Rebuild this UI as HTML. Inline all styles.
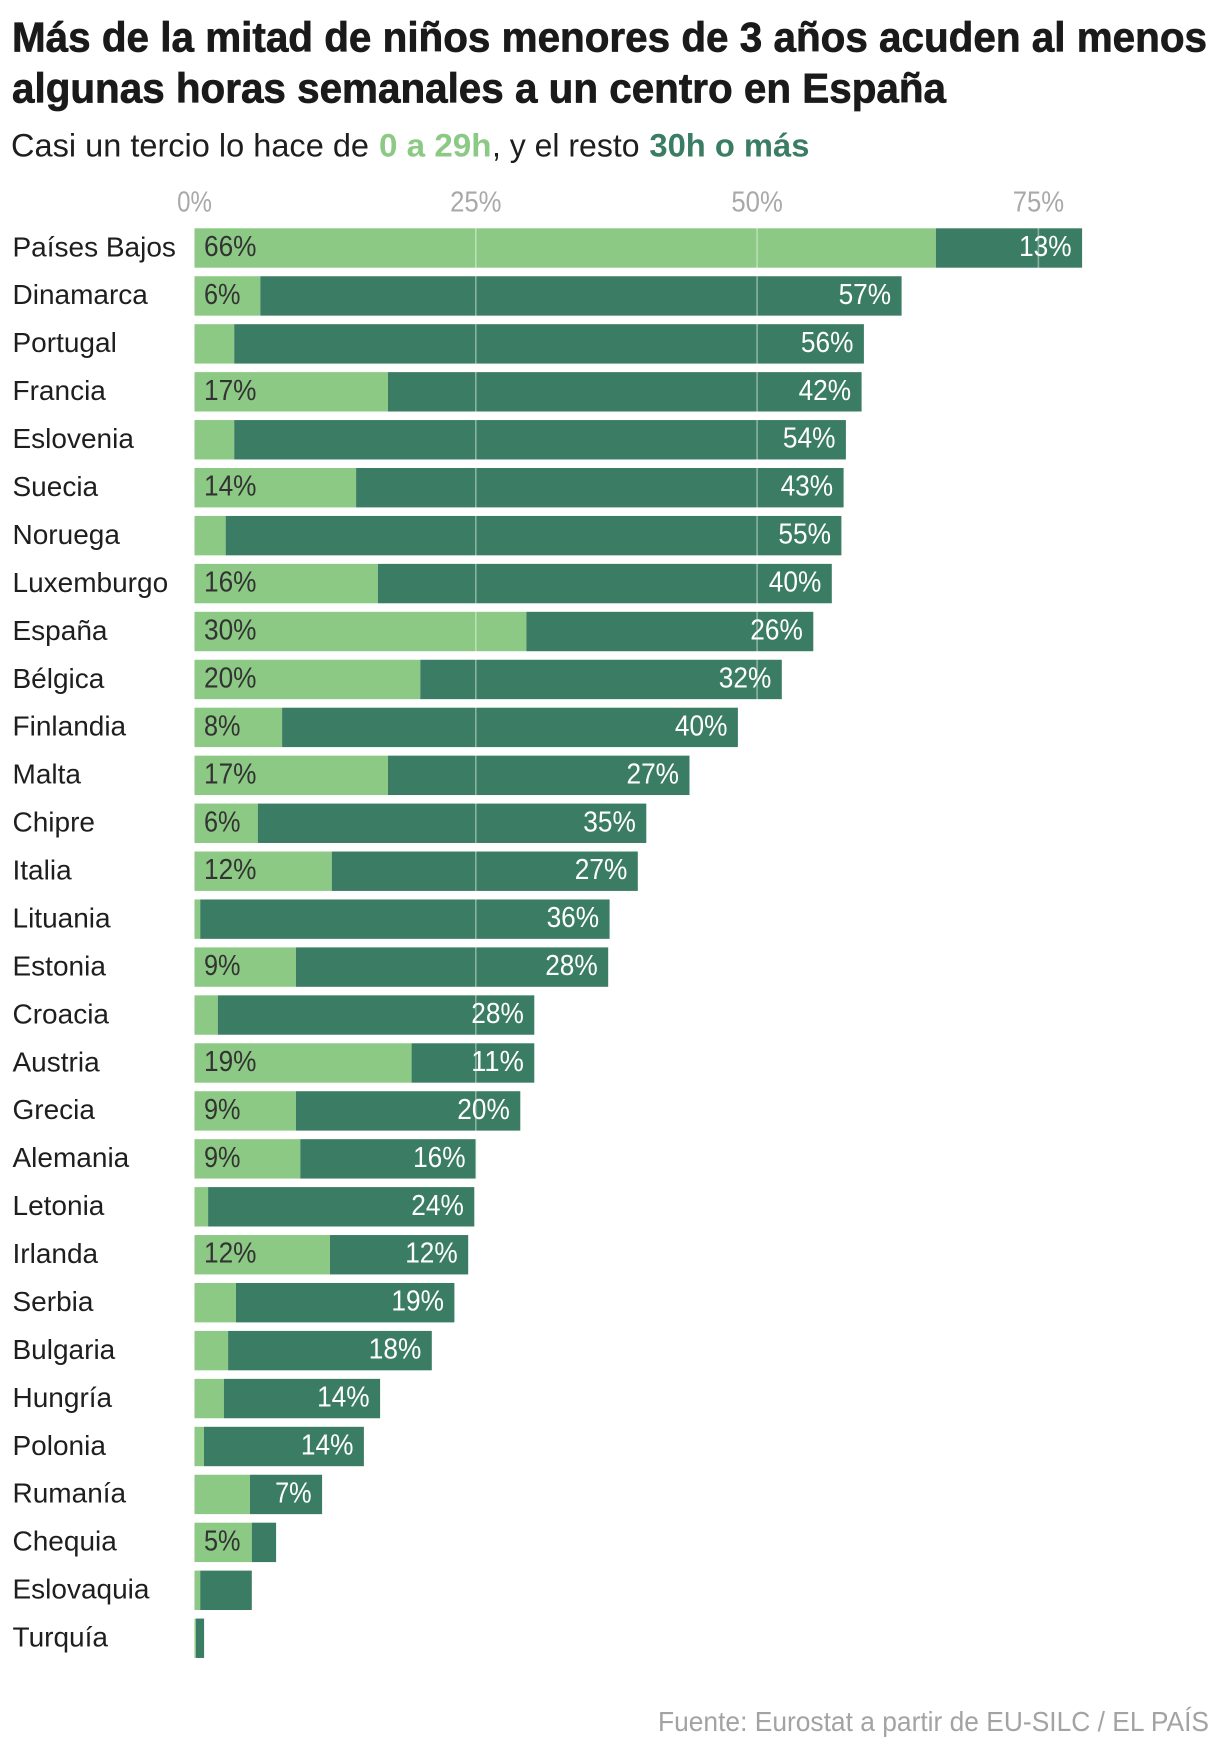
<!DOCTYPE html>
<html>
<head>
<meta charset="utf-8">
<style>
  html,body{margin:0;padding:0;background:#fff;}
  svg{display:block;}
  .t{font-family:"Liberation Sans",sans-serif;font-weight:bold;fill:#1a1a1a;font-size:42px;stroke:#1a1a1a;stroke-width:0.7px;}
  .s{font-family:"Liberation Sans",sans-serif;font-size:32px;fill:#1e1e1e;}
  .ax{font-family:"Liberation Sans",sans-serif;font-size:29px;fill:#a9a9a9;}
  .c{font-family:"Liberation Sans",sans-serif;font-size:28px;fill:#1e1e1e;}
  .vl{font-family:"Liberation Sans",sans-serif;font-size:29px;fill:#333;}
  .vd{font-family:"Liberation Sans",sans-serif;font-size:29px;fill:#fff;}
  .f{font-family:"Liberation Sans",sans-serif;font-size:28px;fill:#a3a3a3;}
  .L{fill:#8cc985;}
  .D{fill:#3b7d64;}
</style>
</head>
<body>
<svg width="1220" height="1744" viewBox="0 0 1220 1744" xmlns="http://www.w3.org/2000/svg">
  <!-- Title -->
  <text class="t" x="12" y="51.7" textLength="1195" lengthAdjust="spacingAndGlyphs">Más de la mitad de niños menores de 3 años acuden al menos</text>
  <text class="t" x="12" y="102.7" textLength="934" lengthAdjust="spacingAndGlyphs">algunas horas semanales a un centro en España</text>
  <!-- Subtitle -->
  <text class="s" x="11" y="156.7" textLength="358" lengthAdjust="spacingAndGlyphs">Casi un tercio lo hace de</text>
  <text class="s" x="379" y="156.7" textLength="112.5" lengthAdjust="spacingAndGlyphs" style="font-weight:bold;fill:#8cc985">0 a 29h</text>
  <text class="s" x="492" y="156.7" textLength="147.5" lengthAdjust="spacingAndGlyphs">, y el resto</text>
  <text class="s" x="649.4" y="156.7" textLength="160" lengthAdjust="spacingAndGlyphs" style="font-weight:bold;fill:#3b7d64">30h o más</text>

  <!-- Axis labels -->
  <text class="ax" x="194.5" y="211.7" text-anchor="middle" textLength="34.8" lengthAdjust="spacingAndGlyphs">0%</text>
  <text class="ax" x="475.8" y="211.7" text-anchor="middle" textLength="51.4" lengthAdjust="spacingAndGlyphs">25%</text>
  <text class="ax" x="757.1" y="211.7" text-anchor="middle" textLength="51.4" lengthAdjust="spacingAndGlyphs">50%</text>
  <text class="ax" x="1038.4" y="211.7" text-anchor="middle" textLength="51.4" lengthAdjust="spacingAndGlyphs">75%</text>

  <!-- Rows -->
  <g transform="translate(0,228.3)">
    <text class="c" x="12.5" y="28">Países Bajos</text>
    <rect class="L" x="194.5" y="0" width="741.4" height="39.4"/><rect class="D" x="935.9" y="0" width="146.2" height="39.4"/>
    <text class="vl" x="204" y="27.7" textLength="52.5" lengthAdjust="spacingAndGlyphs">66%</text>
    <text class="vd" x="1071.6" y="27.7" text-anchor="end" textLength="52.5" lengthAdjust="spacingAndGlyphs">13%</text>
  </g>
  <g transform="translate(0,276.24)">
    <text class="c" x="12.5" y="28">Dinamarca</text>
    <rect class="L" x="194.5" y="0" width="65.8" height="39.4"/><rect class="D" x="260.3" y="0" width="641.3" height="39.4"/>
    <text class="vl" x="204" y="27.7" textLength="36.5" lengthAdjust="spacingAndGlyphs">6%</text>
    <text class="vd" x="891.1" y="27.7" text-anchor="end" textLength="52.5" lengthAdjust="spacingAndGlyphs">57%</text>
  </g>
  <g transform="translate(0,324.18)">
    <text class="c" x="12.5" y="28">Portugal</text>
    <rect class="L" x="194.5" y="0" width="39.7" height="39.4"/><rect class="D" x="234.2" y="0" width="629.7" height="39.4"/>
    <text class="vd" x="853.4" y="27.7" text-anchor="end" textLength="52.5" lengthAdjust="spacingAndGlyphs">56%</text>
  </g>
  <g transform="translate(0,372.12)">
    <text class="c" x="12.5" y="28">Francia</text>
    <rect class="L" x="194.5" y="0" width="193.5" height="39.4"/><rect class="D" x="388" y="0" width="473.6" height="39.4"/>
    <text class="vl" x="204" y="27.7" textLength="52.5" lengthAdjust="spacingAndGlyphs">17%</text>
    <text class="vd" x="851.1" y="27.7" text-anchor="end" textLength="52.5" lengthAdjust="spacingAndGlyphs">42%</text>
  </g>
  <g transform="translate(0,420.06)">
    <text class="c" x="12.5" y="28">Eslovenia</text>
    <rect class="L" x="194.5" y="0" width="39.7" height="39.4"/><rect class="D" x="234.2" y="0" width="611.7" height="39.4"/>
    <text class="vd" x="835.4" y="27.7" text-anchor="end" textLength="52.5" lengthAdjust="spacingAndGlyphs">54%</text>
  </g>
  <g transform="translate(0,468)">
    <text class="c" x="12.5" y="28">Suecia</text>
    <rect class="L" x="194.5" y="0" width="161.6" height="39.4"/><rect class="D" x="356.1" y="0" width="487.5" height="39.4"/>
    <text class="vl" x="204" y="27.7" textLength="52.5" lengthAdjust="spacingAndGlyphs">14%</text>
    <text class="vd" x="833.1" y="27.7" text-anchor="end" textLength="52.5" lengthAdjust="spacingAndGlyphs">43%</text>
  </g>
  <g transform="translate(0,515.94)">
    <text class="c" x="12.5" y="28">Noruega</text>
    <rect class="L" x="194.5" y="0" width="31.2" height="39.4"/><rect class="D" x="225.7" y="0" width="615.7" height="39.4"/>
    <text class="vd" x="830.9" y="27.7" text-anchor="end" textLength="52.5" lengthAdjust="spacingAndGlyphs">55%</text>
  </g>
  <g transform="translate(0,563.88)">
    <text class="c" x="12.5" y="28">Luxemburgo</text>
    <rect class="L" x="194.5" y="0" width="183.4" height="39.4"/><rect class="D" x="377.9" y="0" width="453.9" height="39.4"/>
    <text class="vl" x="204" y="27.7" textLength="52.5" lengthAdjust="spacingAndGlyphs">16%</text>
    <text class="vd" x="821.3" y="27.7" text-anchor="end" textLength="52.5" lengthAdjust="spacingAndGlyphs">40%</text>
  </g>
  <g transform="translate(0,611.82)">
    <text class="c" x="12.5" y="28">España</text>
    <rect class="L" x="194.5" y="0" width="331.9" height="39.4"/><rect class="D" x="526.4" y="0" width="286.9" height="39.4"/>
    <text class="vl" x="204" y="27.7" textLength="52.5" lengthAdjust="spacingAndGlyphs">30%</text>
    <text class="vd" x="802.8" y="27.7" text-anchor="end" textLength="52.5" lengthAdjust="spacingAndGlyphs">26%</text>
  </g>
  <g transform="translate(0,659.76)">
    <text class="c" x="12.5" y="28">Bélgica</text>
    <rect class="L" x="194.5" y="0" width="225.8" height="39.4"/><rect class="D" x="420.3" y="0" width="361.5" height="39.4"/>
    <text class="vl" x="204" y="27.7" textLength="52.5" lengthAdjust="spacingAndGlyphs">20%</text>
    <text class="vd" x="771.3" y="27.7" text-anchor="end" textLength="52.5" lengthAdjust="spacingAndGlyphs">32%</text>
  </g>
  <g transform="translate(0,707.7)">
    <text class="c" x="12.5" y="28">Finlandia</text>
    <rect class="L" x="194.5" y="0" width="87.6" height="39.4"/><rect class="D" x="282.1" y="0" width="455.8" height="39.4"/>
    <text class="vl" x="204" y="27.7" textLength="36.5" lengthAdjust="spacingAndGlyphs">8%</text>
    <text class="vd" x="727.4" y="27.7" text-anchor="end" textLength="52.5" lengthAdjust="spacingAndGlyphs">40%</text>
  </g>
  <g transform="translate(0,755.64)">
    <text class="c" x="12.5" y="28">Malta</text>
    <rect class="L" x="194.5" y="0" width="193.5" height="39.4"/><rect class="D" x="388" y="0" width="301.5" height="39.4"/>
    <text class="vl" x="204" y="27.7" textLength="52.5" lengthAdjust="spacingAndGlyphs">17%</text>
    <text class="vd" x="679" y="27.7" text-anchor="end" textLength="52.5" lengthAdjust="spacingAndGlyphs">27%</text>
  </g>
  <g transform="translate(0,803.58)">
    <text class="c" x="12.5" y="28">Chipre</text>
    <rect class="L" x="194.5" y="0" width="63.3" height="39.4"/><rect class="D" x="257.8" y="0" width="388.5" height="39.4"/>
    <text class="vl" x="204" y="27.7" textLength="36.5" lengthAdjust="spacingAndGlyphs">6%</text>
    <text class="vd" x="635.8" y="27.7" text-anchor="end" textLength="52.5" lengthAdjust="spacingAndGlyphs">35%</text>
  </g>
  <g transform="translate(0,851.52)">
    <text class="c" x="12.5" y="28">Italia</text>
    <rect class="L" x="194.5" y="0" width="137.3" height="39.4"/><rect class="D" x="331.8" y="0" width="306" height="39.4"/>
    <text class="vl" x="204" y="27.7" textLength="52.5" lengthAdjust="spacingAndGlyphs">12%</text>
    <text class="vd" x="627.3" y="27.7" text-anchor="end" textLength="52.5" lengthAdjust="spacingAndGlyphs">27%</text>
  </g>
  <g transform="translate(0,899.46)">
    <text class="c" x="12.5" y="28">Lituania</text>
    <rect class="L" x="194.5" y="0" width="5.7" height="39.4"/><rect class="D" x="200.2" y="0" width="409.4" height="39.4"/>
    <text class="vd" x="599.1" y="27.7" text-anchor="end" textLength="52.5" lengthAdjust="spacingAndGlyphs">36%</text>
  </g>
  <g transform="translate(0,947.4)">
    <text class="c" x="12.5" y="28">Estonia</text>
    <rect class="L" x="194.5" y="0" width="101.5" height="39.4"/><rect class="D" x="296" y="0" width="312.2" height="39.4"/>
    <text class="vl" x="204" y="27.7" textLength="36.5" lengthAdjust="spacingAndGlyphs">9%</text>
    <text class="vd" x="597.7" y="27.7" text-anchor="end" textLength="52.5" lengthAdjust="spacingAndGlyphs">28%</text>
  </g>
  <g transform="translate(0,995.34)">
    <text class="c" x="12.5" y="28">Croacia</text>
    <rect class="L" x="194.5" y="0" width="23.3" height="39.4"/><rect class="D" x="217.8" y="0" width="316.5" height="39.4"/>
    <text class="vd" x="523.8" y="27.7" text-anchor="end" textLength="52.5" lengthAdjust="spacingAndGlyphs">28%</text>
  </g>
  <g transform="translate(0,1043.28)">
    <text class="c" x="12.5" y="28">Austria</text>
    <rect class="L" x="194.5" y="0" width="217.1" height="39.4"/><rect class="D" x="411.6" y="0" width="122.7" height="39.4"/>
    <text class="vl" x="204" y="27.7" textLength="52.5" lengthAdjust="spacingAndGlyphs">19%</text>
    <text class="vd" x="523.8" y="27.7" text-anchor="end" textLength="52.5" lengthAdjust="spacingAndGlyphs">11%</text>
  </g>
  <g transform="translate(0,1091.22)">
    <text class="c" x="12.5" y="28">Grecia</text>
    <rect class="L" x="194.5" y="0" width="101.5" height="39.4"/><rect class="D" x="296" y="0" width="224.3" height="39.4"/>
    <text class="vl" x="204" y="27.7" textLength="36.5" lengthAdjust="spacingAndGlyphs">9%</text>
    <text class="vd" x="509.8" y="27.7" text-anchor="end" textLength="52.5" lengthAdjust="spacingAndGlyphs">20%</text>
  </g>
  <g transform="translate(0,1139.16)">
    <text class="c" x="12.5" y="28">Alemania</text>
    <rect class="L" x="194.5" y="0" width="105.8" height="39.4"/><rect class="D" x="300.3" y="0" width="175.8" height="39.4"/>
    <text class="vl" x="204" y="27.7" textLength="36.5" lengthAdjust="spacingAndGlyphs">9%</text>
    <text class="vd" x="465.6" y="27.7" text-anchor="end" textLength="52.5" lengthAdjust="spacingAndGlyphs">16%</text>
  </g>
  <g transform="translate(0,1187.1)">
    <text class="c" x="12.5" y="28">Letonia</text>
    <rect class="L" x="194.5" y="0" width="13.6" height="39.4"/><rect class="D" x="208.1" y="0" width="266.2" height="39.4"/>
    <text class="vd" x="463.8" y="27.7" text-anchor="end" textLength="52.5" lengthAdjust="spacingAndGlyphs">24%</text>
  </g>
  <g transform="translate(0,1235.04)">
    <text class="c" x="12.5" y="28">Irlanda</text>
    <rect class="L" x="194.5" y="0" width="135.5" height="39.4"/><rect class="D" x="330" y="0" width="138.2" height="39.4"/>
    <text class="vl" x="204" y="27.7" textLength="52.5" lengthAdjust="spacingAndGlyphs">12%</text>
    <text class="vd" x="457.7" y="27.7" text-anchor="end" textLength="52.5" lengthAdjust="spacingAndGlyphs">12%</text>
  </g>
  <g transform="translate(0,1282.98)">
    <text class="c" x="12.5" y="28">Serbia</text>
    <rect class="L" x="194.5" y="0" width="41.5" height="39.4"/><rect class="D" x="236" y="0" width="218.4" height="39.4"/>
    <text class="vd" x="443.9" y="27.7" text-anchor="end" textLength="52.5" lengthAdjust="spacingAndGlyphs">19%</text>
  </g>
  <g transform="translate(0,1330.92)">
    <text class="c" x="12.5" y="28">Bulgaria</text>
    <rect class="L" x="194.5" y="0" width="33.6" height="39.4"/><rect class="D" x="228.1" y="0" width="203.7" height="39.4"/>
    <text class="vd" x="421.3" y="27.7" text-anchor="end" textLength="52.5" lengthAdjust="spacingAndGlyphs">18%</text>
  </g>
  <g transform="translate(0,1378.86)">
    <text class="c" x="12.5" y="28">Hungría</text>
    <rect class="L" x="194.5" y="0" width="29.4" height="39.4"/><rect class="D" x="223.9" y="0" width="156.2" height="39.4"/>
    <text class="vd" x="369.6" y="27.7" text-anchor="end" textLength="52.5" lengthAdjust="spacingAndGlyphs">14%</text>
  </g>
  <g transform="translate(0,1426.8)">
    <text class="c" x="12.5" y="28">Polonia</text>
    <rect class="L" x="194.5" y="0" width="9.5" height="39.4"/><rect class="D" x="204" y="0" width="159.9" height="39.4"/>
    <text class="vd" x="353.4" y="27.7" text-anchor="end" textLength="52.5" lengthAdjust="spacingAndGlyphs">14%</text>
  </g>
  <g transform="translate(0,1474.74)">
    <text class="c" x="12.5" y="28">Rumanía</text>
    <rect class="L" x="194.5" y="0" width="55.5" height="39.4"/><rect class="D" x="250" y="0" width="72.1" height="39.4"/>
    <text class="vd" x="311.6" y="27.7" text-anchor="end" textLength="36.5" lengthAdjust="spacingAndGlyphs">7%</text>
  </g>
  <g transform="translate(0,1522.68)">
    <text class="c" x="12.5" y="28">Chequia</text>
    <rect class="L" x="194.5" y="0" width="57.3" height="39.4"/><rect class="D" x="251.8" y="0" width="24.3" height="39.4"/>
    <text class="vl" x="204" y="27.7" textLength="36.5" lengthAdjust="spacingAndGlyphs">5%</text>
  </g>
  <g transform="translate(0,1570.62)">
    <text class="c" x="12.5" y="28">Eslovaquia</text>
    <rect class="L" x="194.5" y="0" width="5.7" height="39.4"/><rect class="D" x="200.2" y="0" width="51.6" height="39.4"/>
  </g>
  <g transform="translate(0,1618.56)">
    <text class="c" x="12.5" y="28">Turquía</text>
    <rect class="L" x="194.5" y="0" width="1.5" height="39.4"/><rect class="D" x="196" y="0" width="8.1" height="39.4"/>
  </g>

  <!-- Gridlines drawn over bars -->
  <g stroke="#ffffff" stroke-opacity="0.4" stroke-width="1.6">
    <line x1="475.8" y1="228" x2="475.8" y2="1658"/>
    <line x1="757.1" y1="228" x2="757.1" y2="1658"/>
    <line x1="1038.4" y1="228" x2="1038.4" y2="1658"/>
  </g>

  <!-- Footer -->
  <text class="f" x="658" y="1731" textLength="551" lengthAdjust="spacingAndGlyphs">Fuente: Eurostat a partir de EU-SILC / EL PAÍS</text>
</svg>
</body>
</html>
